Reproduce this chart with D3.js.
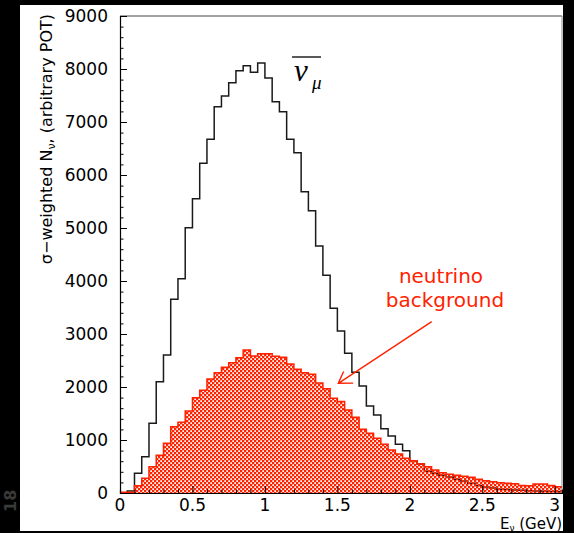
<!DOCTYPE html>
<html>
<head>
<meta charset="utf-8">
<script src="https://cdn.jsdelivr.net/npm/d3@7"></script>
<style>
  html, body { margin: 0; padding: 0; background: #000; }
  svg { display: block; }
</style>
</head>
<body>
<script>
// ---- data ----
const xMin = 0, xMax = 3.05, binWidth = 0.05;
// anti-numu sigma-weighted event counts (black outline), 61 bins of 0.05 GeV
const numuBarCounts = [0, 40, 372, 685, 1315, 2100, 2604, 3654, 4044, 5006,
  5553, 6220, 6673, 7289, 7490, 7742, 7968, 8063, 7937, 8113,
  7830, 7383, 7195, 6673, 6421, 5685, 5327, 4660, 4107, 3484,
  3057, 2635, 2277, 2019, 1642, 1472, 1214, 1075, 918, 799,
  610, 545, 410, 375, 335, 300, 260, 225, 185, 140,
  112, 95, 70, 66, 57, 52, 42, 38, 33, 28, 25];
// neutrino background (red hatched)
const nuBackgroundCounts = [12, 15, 138, 277, 496, 710, 938, 1251, 1333, 1547,
  1799, 1937, 2151, 2270, 2371, 2459, 2553, 2698, 2585, 2629,
  2629, 2579, 2560, 2434, 2333, 2270, 2239, 2075, 1968, 1790,
  1727, 1566, 1428, 1201, 1126, 1032, 918, 811, 736, 654,
  607, 547, 497, 434, 380, 355, 335, 315, 295, 258,
  233, 214, 195, 183, 176, 140, 138, 168, 168, 140, 120];
const xTickLabels = ["0", "0.5", "1", "1.5", "2", "2.5", "3"];
const yTickLabels = ["0", "1000", "2000", "3000", "4000", "5000", "6000", "7000", "8000", "9000"];

// ---- layout ----
const W = 574, H = 533;
const svg = d3.select("body").append("svg").attr("width", W).attr("height", H);
svg.append("rect").attr("width", W).attr("height", H).attr("fill", "#000");
svg.append("rect").attr("x", 20).attr("y", 5).attr("width", 543).attr("height", 526).attr("fill", "#fff");

const x = d3.scaleLinear().domain([xMin, xMax]).range([120, 562]);
const y = d3.scaleLinear().domain([0, 9000]).range([493, 16]);

const red = "#ff2200";
const defs = svg.append("defs");
const pat = defs.append("pattern").attr("id", "hatch")
  .attr("patternUnits", "userSpaceOnUse").attr("width", 4).attr("height", 4);
pat.append("path")
  .attr("d", "M0,0h4v4h-4z M0.3,0.3h1.7v1.7h-1.7z M2.3,2.3h1.7v1.7h-1.7z")
  .attr("fill", red).attr("fill-rule", "evenodd");

function toPoints(counts) {
  const pts = counts.map((v, i) => ({ e: xMin + i * binWidth, v }));
  pts.push({ e: xMax, v: counts[counts.length - 1] });
  return pts;
}
const lineGen = d3.line().x(d => x(d.e)).y(d => y(d.v)).curve(d3.curveStepAfter);
const areaGen = d3.area().x(d => x(d.e)).y0(y(0)).y1(d => y(d.v)).curve(d3.curveStepAfter);

const plot = svg.append("g");
plot.append("defs").append("clipPath").attr("id", "clip")
  .append("rect").attr("x", 120).attr("y", 16).attr("width", 442).attr("height", 477);

// black histogram (drawn first, red pattern has transparent holes)
const blackPts = toPoints(numuBarCounts);
plot.append("path")
  .attr("d", "M" + x(xMin) + "," + y(0) + "L" + lineGen(blackPts).slice(1))
  .attr("fill", "none").attr("stroke", "#1a1a1a").attr("stroke-width", 1.5)
  .attr("clip-path", "url(#clip)");

const redPts = toPoints(nuBackgroundCounts);
plot.append("path").attr("d", areaGen(redPts)).attr("fill", "url(#hatch)")
  .attr("clip-path", "url(#clip)");
plot.append("path")
  .attr("d", "M" + x(xMin) + "," + y(0) + "L" + lineGen(redPts).slice(1))
  .attr("fill", "none").attr("stroke", red).attr("stroke-width", 1.5)
  .attr("clip-path", "url(#clip)");

// frame
svg.append("line").attr("x1", 120).attr("x2", 562).attr("y1", 16).attr("y2", 16).attr("stroke", "#444").attr("stroke-width", 1);
svg.append("line").attr("x1", 562).attr("x2", 562).attr("y1", 16).attr("y2", 493).attr("stroke", "#888").attr("stroke-width", 1);

// axes (ticks inward)
const font = "DejaVu Sans, Verdana, sans-serif";
const xAxis = d3.axisBottom(x).tickValues(d3.range(0, 3.001, 0.1)).tickSize(-3.5).tickFormat("");
const gx = svg.append("g").attr("transform", `translate(0,${y(0)})`).call(xAxis);
gx.selectAll(".tick line").filter(d => Math.abs(d * 2 - Math.round(d * 2)) < 1e-6).attr("y2", -7);
gx.select(".domain").attr("stroke", "#000").attr("stroke-width", 1.2);
gx.selectAll(".tick line").attr("stroke", "#000");
svg.append("g").selectAll("text").data(xTickLabels).join("text")
  .attr("x", d => x(+d)).attr("y", 511)
  .attr("text-anchor", "middle").attr("font-family", font).attr("font-size", 17)
  .attr("fill", "#000").text(d => d);

const yAxis = d3.axisLeft(y).tickValues(d3.range(0, 9001, 200)).tickSize(-3.5).tickFormat("");
const gy = svg.append("g").attr("transform", `translate(${x(0)},0)`).call(yAxis);
gy.selectAll(".tick line").filter(d => d % 1000 === 0).attr("x2", 7);
gy.select(".domain").attr("stroke", "#000").attr("stroke-width", 1.2);
gy.selectAll(".tick line").attr("stroke", "#000");
svg.append("g").selectAll("text").data(yTickLabels).join("text")
  .attr("x", 108).attr("y", d => y(+d)).attr("dy", "0.36em")
  .attr("text-anchor", "end").attr("font-family", font).attr("font-size", 17)
  .attr("fill", "#000").text(d => d);

// axis titles
const yt = svg.append("text").attr("transform", "translate(52,14) rotate(-90)")
  .attr("text-anchor", "end").attr("font-family", font).attr("font-size", 16).attr("fill", "#000");
yt.append("tspan").text("σ−weighted N");
yt.append("tspan").attr("font-size", 11).attr("dy", 3).text("ν");
yt.append("tspan").attr("dy", -3).text(", (arbitrary POT)");

const xt = svg.append("text").attr("x", 562).attr("y", 529)
  .attr("text-anchor", "end").attr("font-family", font).attr("font-size", 15).attr("fill", "#000");
xt.append("tspan").text("E");
xt.append("tspan").attr("font-size", 9).attr("dy", 2).text("ν");
xt.append("tspan").attr("dy", -2).text(" (GeV)");

// nu-mu-bar label
svg.append("line").attr("x1", 292).attr("x2", 321).attr("y1", 57).attr("y2", 57).attr("stroke", "#000").attr("stroke-width", 1.3);
svg.append("text").attr("x", 294).attr("y", 81).attr("font-family", "Liberation Serif, DejaVu Serif, serif")
  .attr("font-style", "italic").attr("font-size", 31).attr("fill", "#000").text("ν");
svg.append("text").attr("x", 312).attr("y", 89).attr("font-family", "Liberation Serif, DejaVu Serif, serif")
  .attr("font-style", "italic").attr("font-size", 19).attr("fill", "#000").text("μ");

// neutrino background annotation
svg.append("text").attr("x", 441).attr("y", 283).attr("text-anchor", "middle")
  .attr("font-family", font).attr("font-size", 20).attr("fill", red).text("neutrino");
svg.append("text").attr("x", 445).attr("y", 307).attr("text-anchor", "middle")
  .attr("font-family", font).attr("font-size", 20).attr("fill", red).text("background");
svg.append("path")
  .attr("d", "M431.7,321.7L338.3,383.3M343.6,371.5L338.3,383.3L353.2,383.1")
  .attr("fill", "none").attr("stroke", red).attr("stroke-width", 1.4);

// faint artefact from the scanned slide
svg.append("text").attr("transform", "translate(16,512) rotate(-90)")
  .attr("font-family", font).attr("font-size", 16).attr("font-weight", "bold").attr("fill", "#3a3a3a").text("18");
</script>
</body>
</html>
